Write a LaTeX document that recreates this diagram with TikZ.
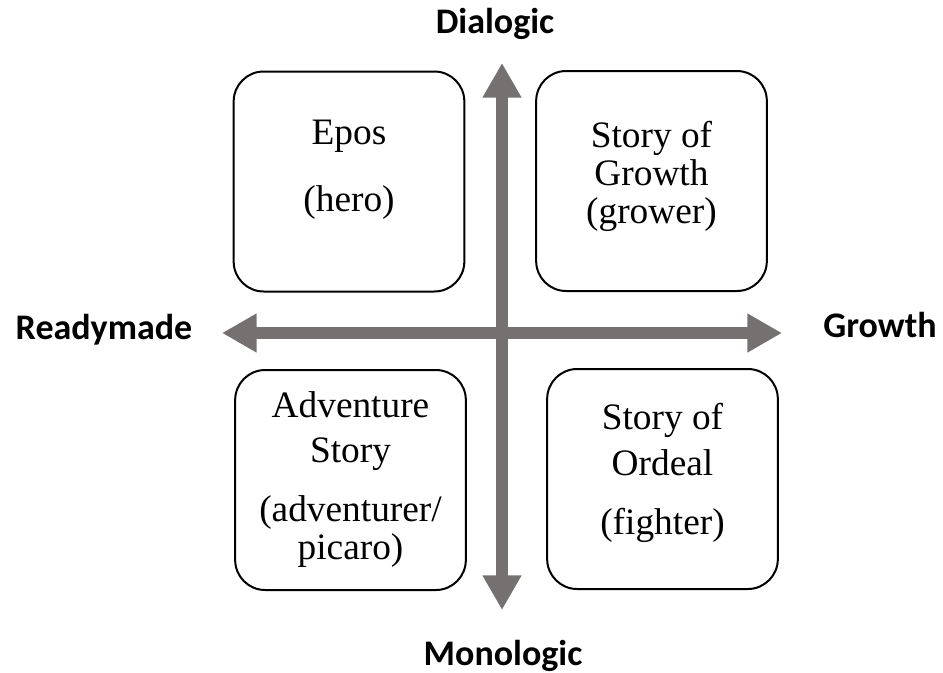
\documentclass[tikz,border=0pt]{standalone}
\usepackage{fontspec}
\setmainfont{Liberation Serif}
\newfontfamily\axisfont{Carlito}
\usepackage{tikz}
\usetikzlibrary{arrows.meta}
\definecolor{axisgray}{RGB}{118,113,113}
\tikzset{
	quadrant/.style={draw=black, line width=1.5pt, rounded corners=22.5pt, minimum width=173pt, minimum height=165pt, inner sep=0pt, align=center, font=\fontsize{28}{28.5}\selectfont},
	axis/.style={draw=axisgray, line width=9pt, {Triangle[length=26pt,width=27.5pt]}-{Triangle[length=26pt,width=27.5pt]}},
	pole/.style={anchor=base, font=\axisfont\bfseries\fontsize{27}{32}\selectfont}
}
\begin{document}
\begin{tikzpicture}[x=0.75pt, y=-0.75pt]
				\useasboundingbox (0,0) rectangle (943,672);
				\coordinate (west) at (222,333);
				\coordinate (east) at (782,333);
				\coordinate (north) at (502,63);
				\coordinate (south) at (502,610);
				\draw[axis] (west) -- (east);
				\draw[axis] (north) -- (south);
				\node[quadrant, text depth=24pt] (epos) at (349,181.5) {Epos\\[22pt](hero)};
				\node[quadrant, text depth=13.5pt] (growthstory) at (651.5,181) {Story of\\Growth\\(grower)};
				\node[quadrant] (adventure) at (350.5,480) {Adventure\\[5pt]Story\\[16pt](adventurer/\\picaro)};
				\node[quadrant, text depth=15pt] (ordeal) at (662.5,479) {Story of\\[6pt]Ordeal\\[16pt](fighter)};
				\node[pole] (readymade) at (104,339) {Readymade};
				\node[pole] (growth) at (880,337) {Growth};
				\node[pole] (dialogic) at (495,33) {Dialogic};
				\node[pole] (monologic) at (503,665) {Monologic};
\end{tikzpicture}
\end{document}
